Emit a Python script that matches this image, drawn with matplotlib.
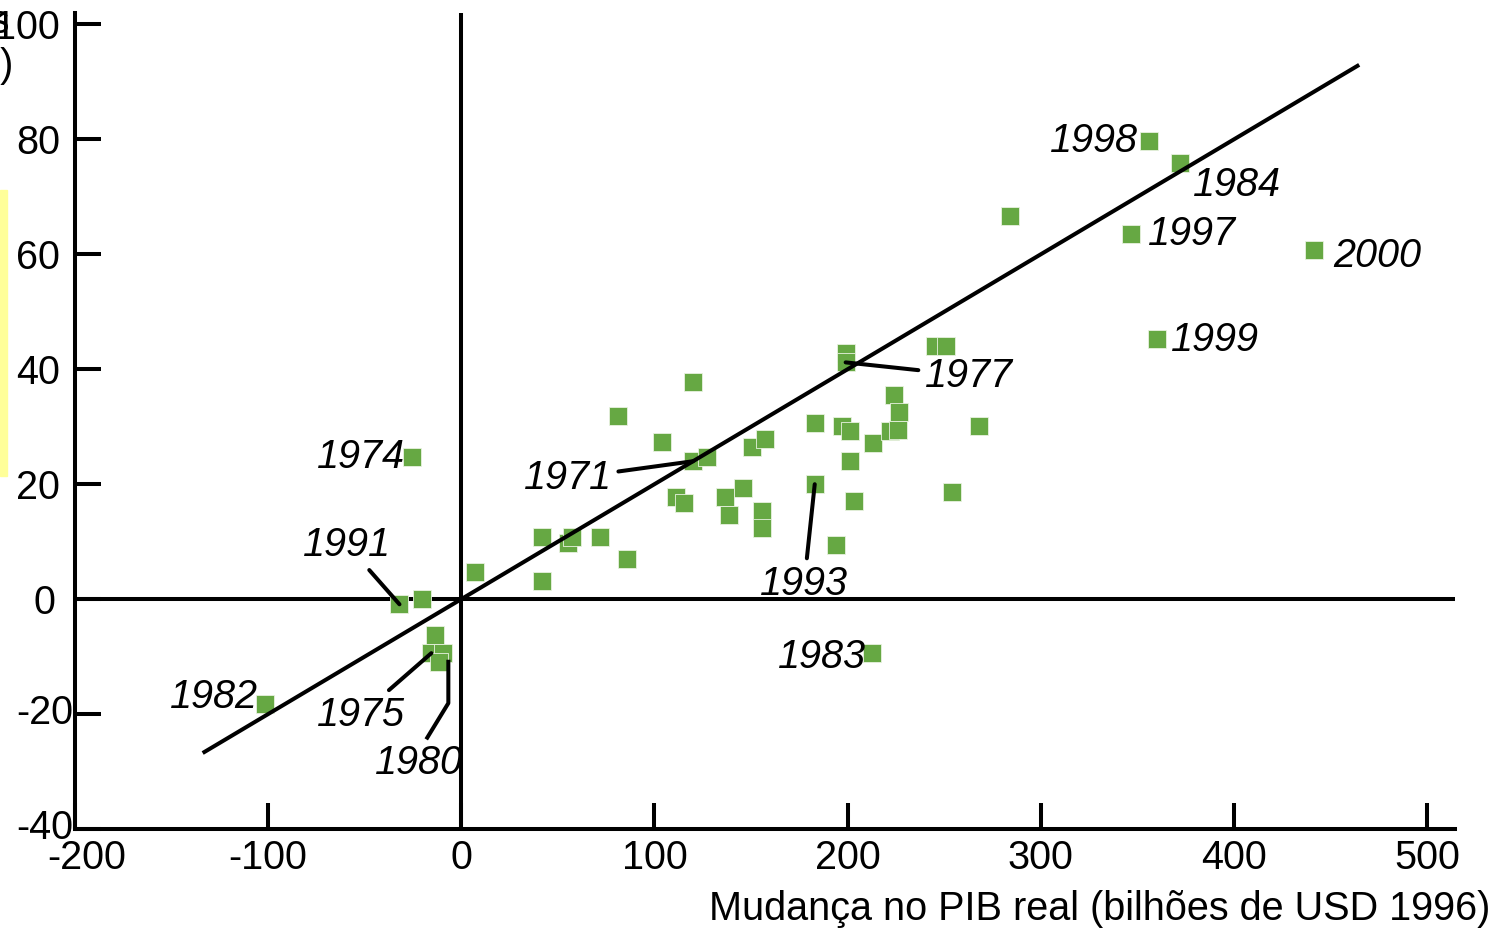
import numpy as np
import matplotlib
matplotlib.use("Agg")
import matplotlib.pyplot as plt
from matplotlib.patches import Rectangle
from matplotlib.transforms import ScaledTranslation

plt.rcParams['font.family'] = ['Liberation Sans', 'DejaVu Sans']
plt.rcParams['axes.unicode_minus'] = False

# change in real GDP (x) vs change in imports (y)
gdp = [356, 372, 284, 347, 441.5, 360, 199, 199, 245.5, 251, 120, 81, 104,
       120, 127, 150.5, 157, 183, 197, 201.5, 213, 224, 226.5, 222, 226,
       268, 201.5, 254, 183, 203.5, 194, 111, 115.5, 136.5, 146, 138.5,
       155.5, 155.5, 42, 55, 57.5, 72, 86, 42, 7, -32, -20.5, -13.5, -15.5,
       -9.5, -11.5, -101.5, -25.5, 212.5]
imp = [79.7, 75.9, 66.7, 63.5, 60.8, 45.3, 42.8, 41.2, 44.1, 44.1, 37.8,
       31.8, 27.4, 24.0, 24.8, 26.4, 27.8, 30.6, 30.2, 29.3, 27.1, 35.6,
       32.5, 29.3, 29.5, 30.2, 24.0, 18.6, 20.0, 17.0, 9.5, 17.7, 16.7,
       17.7, 19.3, 14.6, 15.3, 12.3, 10.8, 9.7, 10.8, 10.8, 6.9, 3.1, 4.7,
       -0.9, 0.0, -6.2, -9.4, -9.4, -10.9, -18.2, 24.7, -9.4]

# trend line through the origin
slope = 0.2
fit_x = np.array([-133, 464])

xticks = np.arange(-200, 501, 100)
yticks = np.arange(-40, 101, 20)

# year labels: (label, point x, point y, text x, text y, leader line)
labels = [
    ("1998", 356, 79.7, 327.5, 79.7, False),
    ("1984", 372, 75.9, 401.5, 72.0, False),
    ("1997", 347, 63.5, 378.5, 63.5, False),
    ("2000", 441.5, 60.8, 474, 59.7, False),
    ("1999", 360, 45.3, 390, 45.1, False),
    ("1977", 199, 41.2, 263, 38.9, True),
    ("1971", 120, 24.0, 55, 21.0, True),
    ("1974", -25.5, 24.7, -52, 24.8, False),
    ("1993", 183, 20.0, 177.5, 2.6, True),
    ("1991", -32, -0.9, -59, 9.4, True),
    ("1975", -15.5, -9.4, -52, -20.1, True),
    ("1982", -101.5, -18.2, -128, -17.0, False),
    ("1983", 212.5, -9.4, 187, -10.1, False),
]
# 1980 has a bent leader
lbl1980 = ("1980", -22, -28.6)
lead1980_x = [-17.6, -6.7, -6.7]
lead1980_y = [-24.1, -18.1, -10.9]

FS = 28.5
LW = 2.9
AX_W = 1380.0

fig = plt.figure(figsize=(15.08, 9.31), dpi=100)
ax = fig.add_axes([75 / 1508, 102 / 931, AX_W / 1508, 816 / 931])
ax.set_xlim(-200, 514.5)
ax.set_ylim(-40, 102)

for s in ['top', 'right']:
    ax.spines[s].set_visible(False)
for s in ['left', 'bottom']:
    ax.spines[s].set_linewidth(LW)

ax.axhline(0, color='black', lw=LW, zorder=1)
ax.axvline(0, color='black', lw=LW, zorder=1)
ax.plot(fit_x, slope * fit_x, color='black', lw=LW, zorder=3)

ax.scatter(gdp, imp, marker='s', s=175, color='#66a843', edgecolors='#e8f2e0',
           linewidths=0.6, zorder=2)

for lab, px, py, tx, ty, lead in labels:
    if lead:
        ax.annotate(lab, xy=(px, py), xytext=(tx, ty), fontsize=FS,
                    style='italic', ha='center', va='center', zorder=4,
                    arrowprops=dict(arrowstyle='-', color='black', lw=LW,
                                    shrinkA=3, shrinkB=0))
    else:
        ax.text(tx, ty, lab, fontsize=FS, style='italic', ha='center',
                va='center', zorder=4)
ax.text(lbl1980[1], lbl1980[2], lbl1980[0], fontsize=FS, style='italic',
        ha='center', va='center', zorder=4)
ax.plot(lead1980_x, lead1980_y, color='black', lw=LW, zorder=4)

ax.set_xticks(xticks)
ax.set_yticks(yticks)
ax.set_yticklabels([])
ax.tick_params(direction='in', length=19, width=LW, labelsize=FS)
ax.tick_params(axis='x', pad=7)
# first x label sits a little right of its tick
first = ax.get_xticklabels()[0]
first.set_transform(first.get_transform() +
                    ScaledTranslation(12 / 100, 0, fig.dpi_scale_trans))

# y tick labels placed by hand: positives end left of the spine,
# zero is centred and negatives run up to the spine
ytr = ax.get_yaxis_transform()
for v in yticks:
    if v > 0:
        ax.text(-15 / AX_W, v, str(v), transform=ytr, ha='right',
                va='center_baseline', fontsize=FS, clip_on=False)
    elif v == 0:
        ax.text(-31 / AX_W, v, str(v), transform=ytr, ha='center',
                va='center_baseline', fontsize=FS, clip_on=False)
    else:
        ax.text(-2 / AX_W, v + 0.8, str(v), transform=ytr, ha='right',
                va='center_baseline', fontsize=FS, clip_on=False)

fig.text(1490 / 1508, 1 - 909 / 931, "Mudança no PIB real (bilhões de USD 1996)",
         ha='right', va='center', fontsize=FS)
fig.text(9 / 1508, 1 - 22 / 931, "Mudança nas importações", ha='right',
         va='center', fontsize=FS)
fig.text(13 / 1508, 1 - 66 / 931, "(bilhões de USD 1996)", ha='right',
         va='center', fontsize=FS)
fig.patches.append(Rectangle((0, 1 - 476 / 931), 7 / 1508, 286 / 931,
                             transform=fig.transFigure, color='#ffff99',
                             zorder=0))

fig.savefig("out.png", dpi=100)
